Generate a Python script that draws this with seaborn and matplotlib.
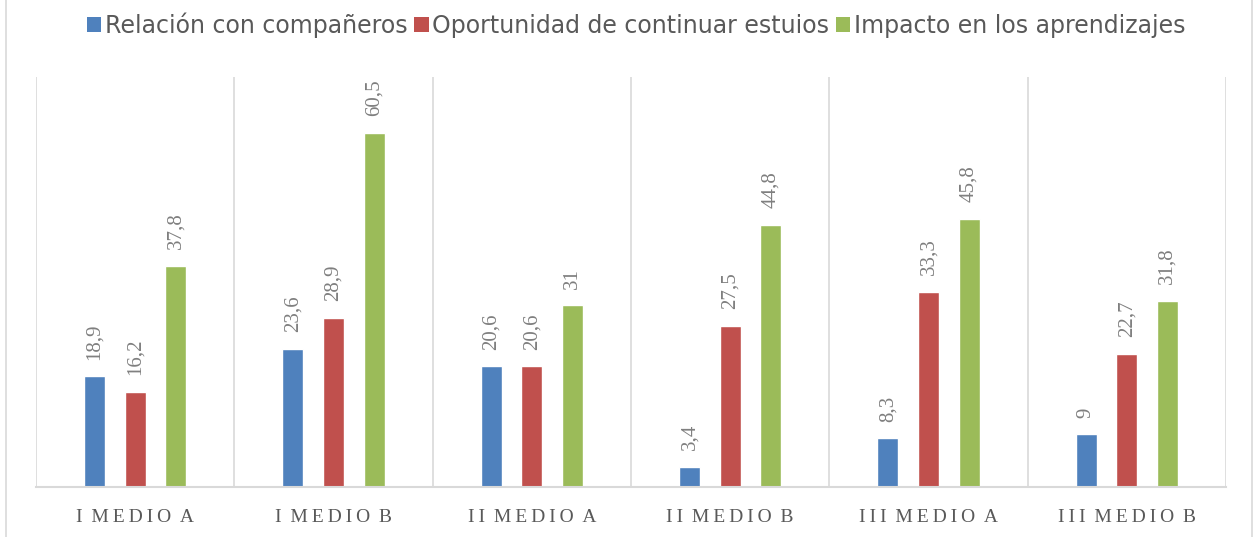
import matplotlib
matplotlib.use("Agg")
import matplotlib.pyplot as plt
import seaborn as sns
import pandas as pd
from matplotlib.lines import Line2D
from matplotlib.patches import Patch

# datos del gráfico
cursos = ["I MEDIO A", "I MEDIO B", "II MEDIO A", "II MEDIO B", "III MEDIO A", "III MEDIO B"]
series = ["Relación con compañeros", "Oportunidad de continuar estuios", "Impacto en los aprendizajes"]
relacion = [18.9, 23.6, 20.6, 3.4, 8.3, 9]
oportunidad = [16.2, 28.9, 20.6, 27.5, 33.3, 22.7]
impacto = [37.8, 60.5, 31, 44.8, 45.8, 31.8]
colores = ["#4F81BD", "#C0504D", "#9BBB59"]

sns.set_style("white")
plt.rcParams["font.family"] = ["DejaVu Sans"]

df = pd.DataFrame({
    "curso": cursos * 3,
    "serie": [s for s in series for _ in cursos],
    "valor": relacion + oportunidad + impacto,
})

fig = plt.figure(figsize=(12.55, 5.37), dpi=100)
ax = fig.add_axes([0.0287, 0.0931, 0.9482, 0.7635])

sns.barplot(data=df, x="curso", y="valor", hue="serie", order=cursos,
            hue_order=series, palette=colores, width=0.614, gap=0.48,
            saturation=1, errorbar=None, legend=False, ax=ax)

ax.set_ylim(0, 70)
ax.set_xlim(-0.5, 5.5)
ax.set_yticks([])
ax.set_xlabel("")
ax.set_ylabel("")

# lineas de separación entre cursos
ax.set_xticks([i + 0.5 for i in range(-1, 6)], minor=True)
ax.grid(True, which="minor", axis="x", color="#D9D9D9", linewidth=1.2)
ax.tick_params(axis="x", which="both", length=0)
for side in ["top", "left", "right"]:
    ax.spines[side].set_visible(False)
ax.spines["bottom"].set_color("#D9D9D9")
ax.spines["bottom"].set_linewidth(1.5)

# etiquetas del eje x con espaciado entre letras
espaciado = [" \u2009".join("\u2009".join(p) for p in c.split(" ")) for c in cursos]
ax.set_xticks(range(len(cursos)))
ax.set_xticklabels(espaciado, family=["Liberation Serif", "DejaVu Serif"],
                   fontsize=14, color="#595959")
ax.tick_params(axis="x", pad=16)

# etiquetas de valores
for cont in ax.containers:
    etiquetas = [f"{b.get_height():g}".replace(".", ",") for b in cont]
    ax.bar_label(cont, labels=etiquetas, rotation=90, padding=12,
                 fontsize=15, color="#7F7F7F",
                 family=["Liberation Serif", "DejaVu Serif"])

handles = [Patch(facecolor=c, edgecolor="none") for c in colores]
fig.legend(handles, series, loc="center", bbox_to_anchor=(0.507, 0.953),
           ncol=3, frameon=False, fontsize=17, handlelength=0.6,
           handleheight=0.6, handletextpad=0.15, columnspacing=0.3,
           labelcolor="#595959")

# borde del gráfico
fig.add_artist(Line2D([6 / 1255, 6 / 1255], [0, 1], color="#D9D9D9", lw=1.2))
fig.add_artist(Line2D([1252 / 1255, 1252 / 1255], [0, 1], color="#D9D9D9", lw=1.2))

fig.savefig("out.png", dpi=100)
